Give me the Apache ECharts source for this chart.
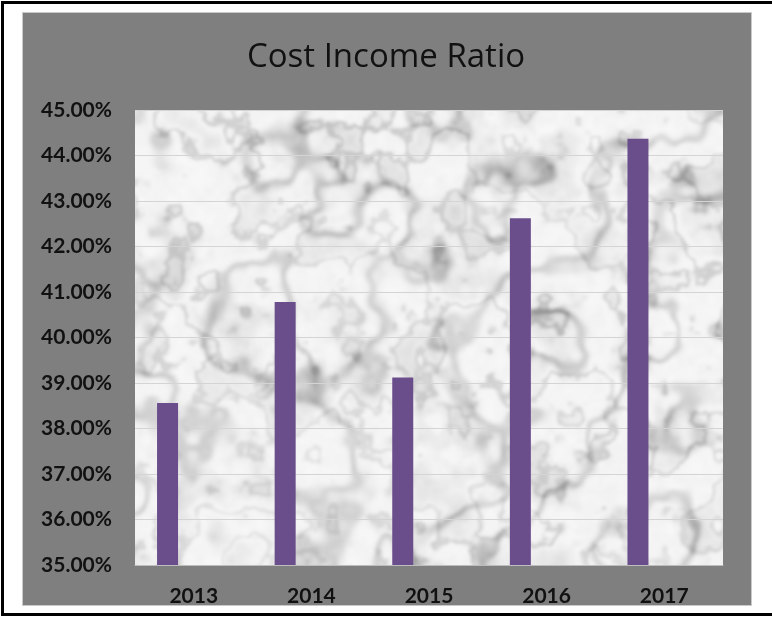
<!DOCTYPE html>
<html>
<head>
<meta charset="utf-8">
<script src="https://cdn.jsdelivr.net/npm/echarts@6/dist/echarts.min.js"></script>
<style>
html,body{margin:0;padding:0;background:#fff;}
#chart{width:772px;height:617px;}
</style>
</head>
<body>
<div id="chart"></div>
<script>
// ---- data ----
const titleText = 'Cost Income Ratio';
const years = ['2013', '2014', '2015', '2016', '2017'];
const costIncomeRatio = [0.3856, 0.4078, 0.3912, 0.4262, 0.4437];
const emptySeries = ['-', '-', '-', '-', '-'];
const yMin = 0.35, yMax = 0.45, yStep = 0.01;

// ---- decorative marble texture (deterministic) ----
function hash(i, j) {
  let h = Math.imul(i, 374761393) + Math.imul(j, 668265263);
  h = Math.imul(h ^ (h >>> 13), 1274126177);
  h = h ^ (h >>> 16);
  return (h >>> 0) / 4294967295;
}
function smooth(t){ return t*t*(3-2*t); }
function vnoise(x, y) {
  const xi = Math.floor(x), yi = Math.floor(y);
  const xf = x - xi, yf = y - yi;
  const a = hash(xi, yi), b = hash(xi+1, yi), c = hash(xi, yi+1), d = hash(xi+1, yi+1);
  const u = smooth(xf), v = smooth(yf);
  return a + (b-a)*u + (c-a)*v + (a - b - c + d)*u*v;
}
function fbm(x, y, oct) {
  let s = 0, amp = 0.5, f = 1;
  for (let k = 0; k < oct; k++) { s += amp * vnoise(x*f, y*f); f *= 2; amp *= 0.5; }
  return s;
}
function makeMarble(w, h) {
  const c = document.createElement('canvas');
  c.width = w; c.height = h;
  const ctx = c.getContext('2d');
  const img = ctx.createImageData(w, h);
  for (let y = 0; y < h; y++) {
    for (let x = 0; x < w; x++) {
      const t = fbm(x/110, y/110, 4);
      const t2 = fbm(x/35 + 5, y/35 + 9, 4);
      const t3 = fbm(x/10 + 31, y/10 + 17, 2);
      const a1 = Math.sin(x*0.016 + y*0.009 + 11*t);
      const vein = Math.pow(1 - a1*a1, 10);
      const a2 = Math.sin(x*0.011 - y*0.017 + 8*t2);
      const vein2 = Math.pow(1 - a2*a2, 14);
      const mott = Math.max(0, t2 - 0.48) * 2.0;
      let v = 243 - 50*vein*(0.3 + t2) - 40*vein2*(0.3 + t) - 38*mott - 10*(t3 - 0.5);
      v = Math.max(150, Math.min(248, v));
      const i = (y*w + x)*4;
      img.data[i] = v; img.data[i+1] = v; img.data[i+2] = v; img.data[i+3] = 255;
    }
  }
  ctx.putImageData(img, 0, 0);
  const out = document.createElement('canvas');
  out.width = w; out.height = h;
  const octx = out.getContext('2d');
  octx.filter = 'blur(1.5px)';
  octx.drawImage(c, 0, 0);
  return out;
}
const marble = makeMarble(772, 617);

const chart = echarts.init(document.getElementById('chart'), null, {renderer: 'canvas'});
chart.setOption({
  backgroundColor: '#ffffff',
  animation: false,
  graphic: [
    { type: 'rect', z: -10, shape: {x: 22.5, y: 12.5, width: 729, height: 593},
      style: {fill: '#7f7f7f', stroke: '#c9c9c9', lineWidth: 1} },
    { type: 'rect', z: 100, shape: {x: 2.5, y: 2.5, width: 790, height: 612},
      style: {fill: null, stroke: '#000000', lineWidth: 3} }
  ],
  title: {
    text: titleText,
    left: 'center',
    top: 36,
    textStyle: {fontFamily: 'Open Sans', fontWeight: 'normal', fontSize: 33, color: '#111111'}
  },
  grid: {
    left: 135, right: 49, top: 110, bottom: 52,
    show: true, borderWidth: 0,
    backgroundColor: {image: marble, repeat: 'no-repeat'}
  },
  xAxis: {
    type: 'category',
    data: years,
    axisLine: {show: true, lineStyle: {color: '#bdbdbd', width: 1}},
    axisTick: {show: false},
    axisLabel: {margin: 21, fontFamily: 'Lato', fontWeight: 'bold', fontSize: 21, color: '#111111'}
  },
  yAxis: {
    type: 'value',
    min: yMin, max: yMax, interval: yStep,
    axisLine: {show: false},
    axisTick: {show: false},
    splitLine: {show: true, lineStyle: {color: '#d4d4d4', width: 1}},
    axisLabel: {
      margin: 23, fontFamily: 'Lato', fontWeight: 'bold', fontSize: 21, color: '#111111',
      formatter: v => (v*100).toFixed(2) + '%'
    }
  },
  series: [
    { type: 'bar', name: 'Cost Income Ratio', data: costIncomeRatio,
      barWidth: 21, barGap: '150%', itemStyle: {color: '#6a4d8b'} },
    { type: 'bar', name: '', data: emptySeries, barWidth: 21, itemStyle: {color: '#6a4d8b'} }
  ]
});
</script>
</body>
</html>
